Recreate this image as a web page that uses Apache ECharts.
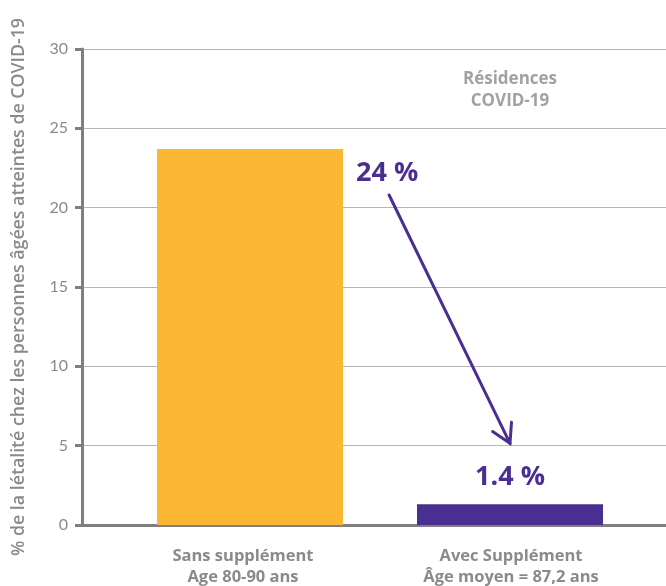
<!DOCTYPE html>
<html><head><meta charset="utf-8">
<script src="https://cdn.jsdelivr.net/npm/echarts@6/dist/echarts.min.js"></script>
<style>html,body{margin:0;padding:0;background:#fff}#c{width:666px;height:586px}</style>
</head><body><div id="c"></div>
<script>
const categories = ['Sans supplément\nAge 80-90 ans', 'Avec Supplément\nÂge moyen = 87,2 ans'];
const values = [23.7, 1.3];
const valueLabels = ['24 %', '1.4 %'];
const barColors = ['#FBB634', '#4B2E91'];
const yTicks = [0, 5, 10, 15, 20, 25, 30];
const yTitle = '% de la létalité chez les personnes âgées atteintes de COVID-19';
const noteText = 'Résidences\nCOVID-19';
const notePoint = [1, 27.4];
const arrowFrom = [0.535, 20.8];
const arrowTo = [1, 5.15];

const gray = '#8a8a8a';
const purple = '#4B2E91';
const font = '"Open Sans", sans-serif';
const tickFont = 'Lato, "Open Sans", sans-serif';

// title size chosen so the rotated title spans the same length as in the reference
const cv = document.createElement('canvas').getContext('2d');
cv.font = '600 100px "Open Sans"';
let titleSize = 538 / (cv.measureText(yTitle).width / 100);
titleSize = Math.max(15, Math.min(18, titleSize));

const chart = echarts.init(document.getElementById('c'));
const yMin = yTicks[0], yMax = yTicks[yTicks.length - 1], yStep = yTicks[1] - yTicks[0];
const gridBase = {top: 49, bottom: 61, outerBoundsMode: 'none', containLabel: false};

chart.setOption({
  animation: false,
  grid: [
    Object.assign({left: 82, right: 0}, gridBase),
    Object.assign({left: 120, right: 26}, gridBase),
    Object.assign({left: 120, right: 26}, gridBase),
    Object.assign({left: 109, right: 21}, gridBase)
  ],
  xAxis: [
    {gridIndex: 0, type: 'value', min: 0, max: 1, axisLabel: {show: false}, axisTick: {show: false}, splitLine: {show: false},
     axisLine: {show: true, lineStyle: {color: '#7f7f7f', width: 3}}},
    {gridIndex: 1, type: 'category', data: categories, show: false},
    {gridIndex: 2, type: 'value', min: -0.5, max: 1.5, show: false},
    {gridIndex: 3, type: 'category', data: categories, axisLine: {show: false}, axisTick: {show: false},
     axisLabel: {color: gray, fontFamily: font, fontWeight: 'bold', fontSize: 16.5, lineHeight: 21, margin: 21, interval: 0}}
  ],
  yAxis: [
    {gridIndex: 0, type: 'value', min: yMin, max: yMax, interval: yStep,
     name: yTitle, nameLocation: 'middle', nameGap: 82 - 19 - titleSize / 2,
     nameTextStyle: {color: gray, fontFamily: font, fontWeight: 600, fontSize: titleSize},
     axisLine: {show: true, lineStyle: {color: '#7f7f7f', width: 3}},
     axisTick: {show: true, length: 7, lineStyle: {color: '#7f7f7f', width: 3}},
     axisLabel: {color: gray, fontFamily: tickFont, fontSize: 16, margin: 14},
     splitLine: {show: true, lineStyle: {color: '#b5b5b5', width: 1}}},
    {gridIndex: 1, type: 'value', min: yMin, max: yMax, show: false, splitLine: {show: false}},
    {gridIndex: 2, type: 'value', min: yMin, max: yMax, show: false, splitLine: {show: false}},
    {gridIndex: 3, type: 'value', min: yMin, max: yMax, show: false, splitLine: {show: false}}
  ],
  series: [
    {type: 'bar', xAxisIndex: 1, yAxisIndex: 1, barWidth: 186,
     data: values.map((v, i) => ({
       value: v,
       itemStyle: {color: barColors[i]},
       label: i === 0
         ? {show: true, position: [199, 24], align: 'left', verticalAlign: 'middle'}
         : {show: true, position: 'top', distance: 14}
     })),
     label: {color: purple, fontFamily: font, fontWeight: 'bold', fontSize: 27,
       formatter: p => valueLabels[p.dataIndex]}},
    {type: 'scatter', xAxisIndex: 2, yAxisIndex: 2, symbolSize: 0, silent: true,
     data: [notePoint],
     label: {show: true, position: 'inside', formatter: noteText, color: gray, fontFamily: font,
       fontWeight: 'bold', fontSize: 17, lineHeight: 22}}
  ]
});

const p1 = chart.convertToPixel({xAxisIndex: 2, yAxisIndex: 2}, arrowFrom);
const p2 = chart.convertToPixel({xAxisIndex: 2, yAxisIndex: 2}, arrowTo);
const ang = Math.atan2(p2[1] - p1[1], p2[0] - p1[0]);
const headLen = 21, headAng = Math.PI / 6;
const w1 = [p2[0] - headLen * Math.cos(ang - headAng), p2[1] - headLen * Math.sin(ang - headAng)];
const w2 = [p2[0] - headLen * Math.cos(ang + headAng), p2[1] - headLen * Math.sin(ang + headAng)];
const st = {stroke: purple, lineWidth: 3, lineCap: 'round', lineJoin: 'miter', fill: null};
chart.setOption({graphic: [
  {type: 'line', shape: {x1: p1[0], y1: p1[1], x2: p2[0], y2: p2[1]}, style: st},
  {type: 'polyline', shape: {points: [w1, p2, w2]}, style: st}
]});
</script></body></html>
